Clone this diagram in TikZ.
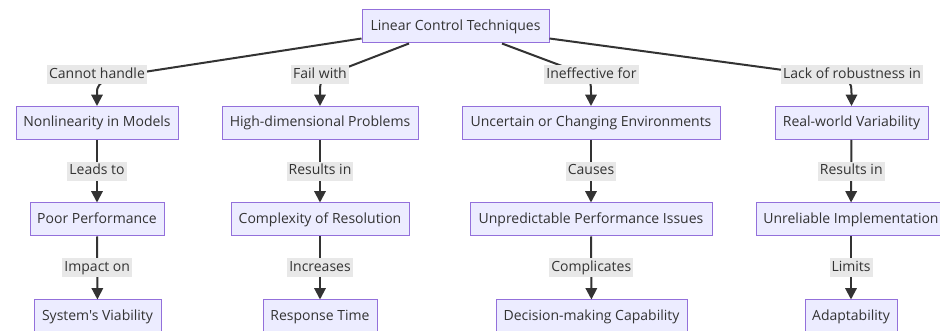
\documentclass[tikz,border=0pt]{standalone}
\usepackage{fontspec}
\setmainfont{Open Sans}[Ligatures=TeXOff]
\usetikzlibrary{arrows.meta,calc}
\definecolor{nodefill}{HTML}{ECECFF}
\definecolor{nodeline}{HTML}{9370DB}
\definecolor{ink}{HTML}{333333}
\definecolor{lblbg}{HTML}{E8E8E8}
\begin{document}
\begin{tikzpicture}[x=0.75pt,y=-0.75pt,
  txt/.style={text=ink, font=\fontsize{10.5}{12}\selectfont, text height=7.6pt, text depth=2.2pt},
  box/.style={txt, draw=nodeline, line width=0.75pt, fill=nodefill,
    minimum height=24.75pt, inner sep=0pt, minimum width={#1*0.75pt}},
  lbl/.style={txt, fill=lblbg, inner xsep=1.5pt, inner ysep=0pt, minimum height=14.25pt},
  edge/.style={draw=ink, line width=1.5pt, -{Triangle[length=8.5pt,width=8.5pt]}},
]
\useasboundingbox (0,0) rectangle (940,331);
\fill[white] (0,0) rectangle (940,331);
\clip (0,0) rectangle (940,331);

% root
\node[box=187] (root) at (455.5,26.5) {Linear Control Techniques};

% first row
\node[box=162] (nl)  at (97,123)    {Nonlinearity in Models};
\node[box=196] (hd)  at (320,123)   {High-dimensional Problems};
\node[box=258] (uc)  at (591,123)   {Uncertain or Changing Environments};
\node[box=153] (rw)  at (851.5,123) {Real-world Variability};

% second row
\node[box=134] (pp)  at (97,219.5)  {Poor Performance};
\node[box=178] (cr)  at (320,219.5) {Complexity of Resolution};
\node[box=242] (up)  at (591,219.5) {Unpredictable Performance Issues};
\node[box=190] (ui)  at (851,219.5) {Unreliable Implementation};

% third row
\node[box=127] (sv)  at (97.5,316.5) {System's Viability};
\node[box=114] (rt)  at (320,316.5)  {Response Time};
\node[box=191] (dm)  at (591.5,316.5) {Decision-making Capability};
\node[box=92]  (ad)  at (851,316.5)  {Adaptability};

% branches out of the root
\draw[edge] ($(root.south west)+(0,-5)$) -- (118,76) .. controls (97,84) .. (nl.north);
\draw[edge] ($(root.south)+(-46.5,0)$) -- (335,72) .. controls (320,80) .. (hd.north);
\draw[edge] ($(root.south)+(46.5,0)$) -- (578,72) .. controls (591,80) .. (uc.north);
\draw[edge] ($(root.south east)+(0,-5)$) -- (820,75) .. controls (851.5,80) .. (rw.north);

\node[lbl] (l1) at (97,74.5)  {Cannot handle};
\node[lbl] (l2) at (320,74.5) {Fail with};
\node[lbl] (l3) at (591.5,74.5) {Ineffective for};
\node[lbl] (l4) at (852,74.5) {Lack of robustness in};

% chains below each branch
\draw[edge] (nl) -- node[lbl] (l5) {Leads to} (pp);
\draw[edge] (pp) -- node[lbl] (l6) {Impact on} (sv);
\draw[edge] (hd) -- node[lbl] (l7) {Results in} (cr);
\draw[edge] (cr) -- node[lbl] (l8) {Increases} (rt);
\draw[edge] (uc) -- node[lbl] (l9) {Causes} (up);
\draw[edge] (up) -- node[lbl] (l10) {Complicates} (dm);
\draw[edge] (rw) -- node[lbl] (l11) {Results in} (ui);
\draw[edge] (ui) -- node[lbl] (l12) {Limits} (ad);
\end{tikzpicture}
\end{document}
